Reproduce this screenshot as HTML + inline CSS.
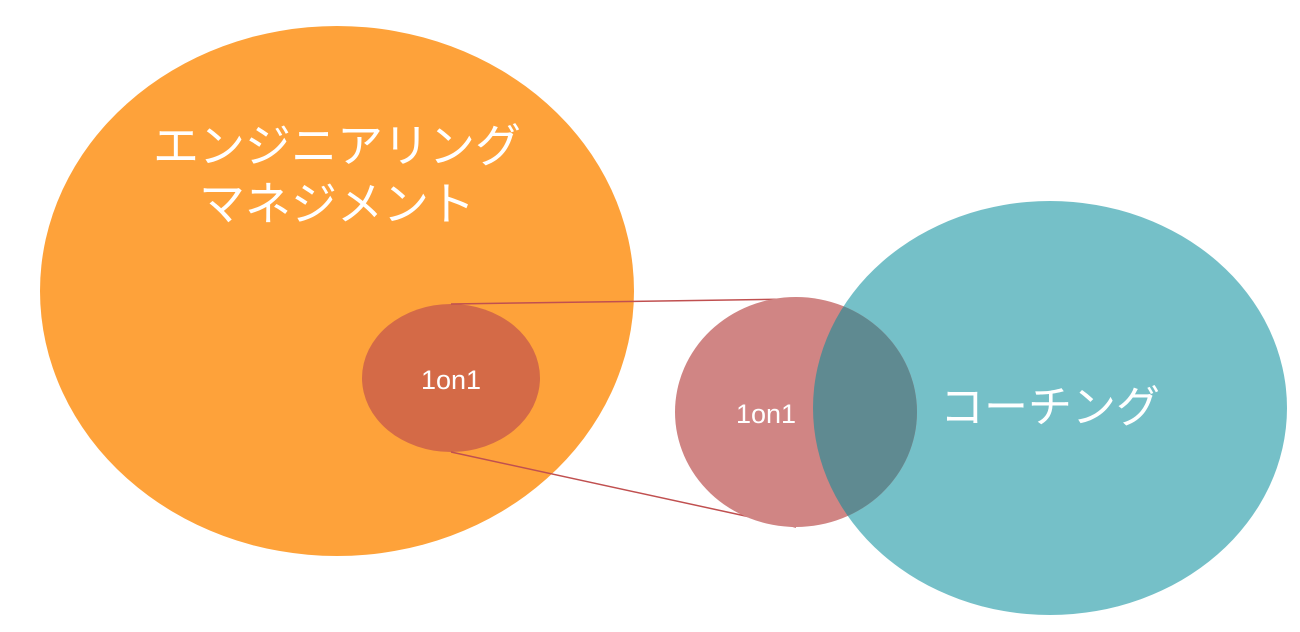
<!DOCTYPE html>
<html><head><meta charset="utf-8"><style>
html,body{margin:0;padding:0;background:#fff;width:1300px;height:632px;overflow:hidden}
svg text{font-family:"Liberation Sans","Noto Sans CJK JP",sans-serif;fill:#fff}
</style></head><body>
<svg width="1300" height="632" xmlns="http://www.w3.org/2000/svg">
<ellipse cx="337" cy="291" rx="297" ry="265" fill="#FEA23A"/>
<ellipse cx="451" cy="378" rx="89" ry="74" fill="#D46A47"/>
<line x1="451" y1="304" x2="796" y2="299" stroke="#C05050" stroke-width="1.5"/>
<line x1="451" y1="452" x2="796" y2="527" stroke="#C05050" stroke-width="1.5"/>
<ellipse cx="1050" cy="408" rx="237" ry="207" fill="#75C0C8"/>
<ellipse cx="796" cy="412" rx="121" ry="115" fill="#D08584"/>
<clipPath id="c"><ellipse cx="1050" cy="408" rx="237" ry="207"/></clipPath>
<ellipse cx="796" cy="412" rx="121" ry="115" fill="#5F8A91" clip-path="url(#c)"/>
<text x="337" y="162" font-size="46" text-anchor="middle">エンジニアリング</text>
<text x="337" y="220" font-size="46" text-anchor="middle">マネジメント</text>
<text x="1050" y="422" font-size="44" text-anchor="middle">コーチング</text>
<text x="451" y="389" font-size="27" text-anchor="middle">1on1</text>
<text x="766" y="423" font-size="27" text-anchor="middle">1on1</text>
</svg>
</body></html>
